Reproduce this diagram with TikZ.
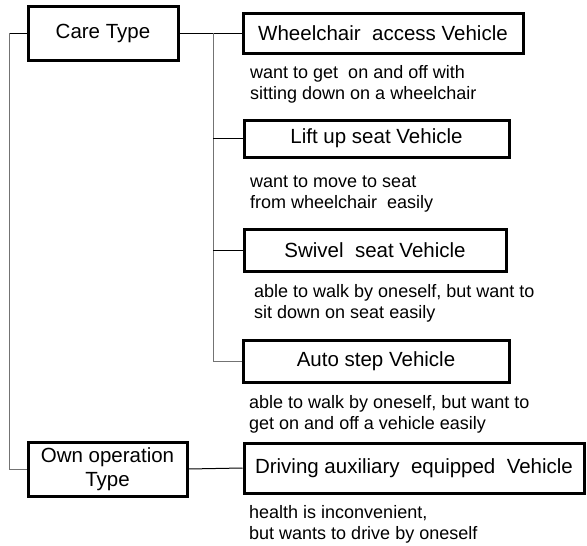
\documentclass[tikz,border=0pt]{standalone}
\usepackage{fontspec}
\setmainfont{Liberation Sans}
\begin{document}
\begin{tikzpicture}[x=1pt,y=-1pt,
    box/.style={draw,line width=3pt,minimum height=#1,inner sep=0pt,font=\fontsize{20.5}{24}\selectfont},
    box/.default=40,
    desc/.style={anchor=base west,align=left,inner sep=0pt,font=\fontsize{18}{21}\selectfont},
    trunk/.style={draw=black!55,line width=1pt},
    branch/.style={draw,line width=1pt}]
        \useasboundingbox (0,0) rectangle (587,546);
        \node[box=54,minimum width=150,align=center] (care) at (103,33) {Care Type};
        \node[box=54,minimum width=159,align=center] (own) at (107.5,469) {Own operation\\Type};
        \node[box=40,minimum width=280] (wheel) at (383,33) {Wheelchair\ \ access Vehicle};
        \node[box=37,minimum width=265] (lift) at (376.5,138.5) {Lift up seat Vehicle};
        \node[box=42,minimum width=262] (swivel) at (375,250) {Swivel\ \ seat Vehicle};
        \node[box=42,minimum width=266] (auto) at (376,361) {Auto step Vehicle};
        \node[box=50,minimum width=340] (drive) at (414,468) {Driving auxiliary\ \ equipped\ \ Vehicle};
        \node[desc] (wheeltxt) at (250,99) {want to get\ \ on and off with\\sitting down on a wheelchair};
        \node[desc] (lifttxt) at (250,208) {want to move to seat\\from wheelchair\ \ easily};
        \node[desc] (swiveltxt) at (254,318) {able to walk by oneself, but want to\\sit down on seat easily};
        \node[desc] (autotxt) at (249,429) {able to walk by oneself, but want to\\get on and off a vehicle easily};
        \node[desc] (drivetxt) at (249,539) {health is inconvenient,\\but wants to drive by oneself};
        \coordinate (fork) at (213,33);
        \draw[branch] (care.west) -- ++(-17,0);
        \draw[trunk] (care.west) ++(-17,0) |- (own.west);
        \draw[branch] (care.east) -- (wheel.west);
        \draw[trunk] (fork) |- (auto.west);
        \draw[branch] (fork |- lift) -- (lift.west);
        \draw[branch] (fork |- swivel) -- (swivel.west);
        \draw[branch] (own.east) -- (drive.west);
      \end{tikzpicture}
\end{document}
